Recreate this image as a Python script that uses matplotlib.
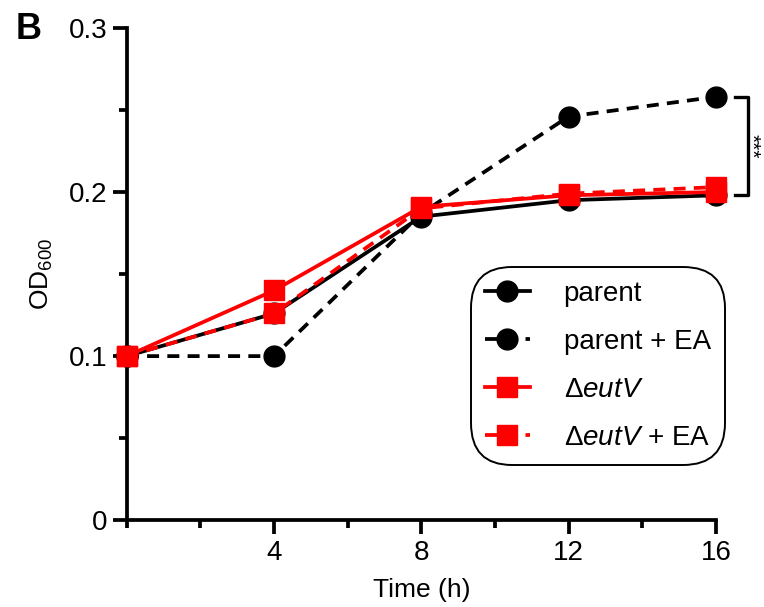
import matplotlib.pyplot as plt
from matplotlib.ticker import MultipleLocator

plt.rcParams['font.family'] = ['Liberation Sans', 'DejaVu Sans']
plt.rcParams['mathtext.fontset'] = 'custom'
plt.rcParams['mathtext.rm'] = 'Liberation Sans'
plt.rcParams['mathtext.it'] = 'Liberation Sans:italic'

# time points (h) and OD600 readings
time_h = [0, 4, 8, 12, 16]
parent = [0.100, 0.126, 0.185, 0.195, 0.198]
parent_ea = [0.100, 0.100, 0.187, 0.246, 0.258]
eutv = [0.100, 0.140, 0.191, 0.198, 0.200]
eutv_ea = [0.100, 0.126, 0.190, 0.199, 0.203]

fig = plt.figure(figsize=(7.64, 6.07), dpi=100)
ax = fig.add_axes([0.166, 0.143, 0.771, 0.811])

lw = 2.7
ms = 15
dash = (3.2, 2.2)
ax.plot(time_h, parent, color='black', lw=lw, marker='o', ms=ms,
        label='parent', zorder=3, clip_on=False)
ax.plot(time_h, parent_ea, color='black', lw=lw, ls=(0, dash), marker='o', ms=ms,
        label='parent + EA', zorder=3, clip_on=False)
ax.plot(time_h, eutv, color='#ff0000', lw=lw, marker='s', ms=ms,
        label=r'$\Delta\it{eutV}$', zorder=4, clip_on=False)
ax.plot(time_h, eutv_ea, color='#ff0000', lw=lw, ls=(0, dash), marker='s', ms=ms,
        label=r'$\Delta\it{eutV}$ + EA', zorder=4, clip_on=False)

ax.set_xlim(0, 16)
ax.set_ylim(0, 0.3)
ax.set_xticks([4, 8, 12, 16])
ax.xaxis.set_minor_locator(MultipleLocator(2))
ax.set_yticks([0, 0.1, 0.2, 0.3])
ax.set_yticklabels(['0', '0.1', '0.2', '0.3'])
ax.yaxis.set_minor_locator(MultipleLocator(0.05))

for side in ['top', 'right']:
    ax.spines[side].set_visible(False)
for side in ['left', 'bottom']:
    ax.spines[side].set_linewidth(2.7)
ax.tick_params(which='major', length=10, width=2.7, labelsize=20, pad=4)
ax.tick_params(which='minor', length=6, width=2.7)

ax.set_xlabel('Time (h)', fontsize=19, labelpad=9)
ax.set_ylabel(r'OD$_{600}$', fontsize=19, labelpad=10)

# significance bracket
bx = 16.87
ax.plot([16.52, bx, bx, 16.52], [parent_ea[-1], parent_ea[-1], parent[-1], parent[-1]],
        color='black', lw=2.4, clip_on=False)
ax.text(16.96, (parent_ea[-1] + parent[-1]) / 2, '***', rotation=-90,
        ha='center', va='center', fontsize=15)

fig.text(0.02, 0.952, 'B', fontsize=26, fontweight='bold', va='center')

leg = ax.legend(loc='lower right', bbox_to_anchor=(1.015, 0.112), borderaxespad=0,
                fontsize=20, frameon=True, fancybox=True, edgecolor='black',
                framealpha=1, handlelength=1.65, labelspacing=0.8, borderpad=0.5,
                handletextpad=1.2, markerscale=1.0)
leg.get_frame().set_linewidth(1.4)
leg.get_frame().set_boxstyle('round', pad=0.0, rounding_size=1.5)

fig.savefig('out.png', dpi=100)
